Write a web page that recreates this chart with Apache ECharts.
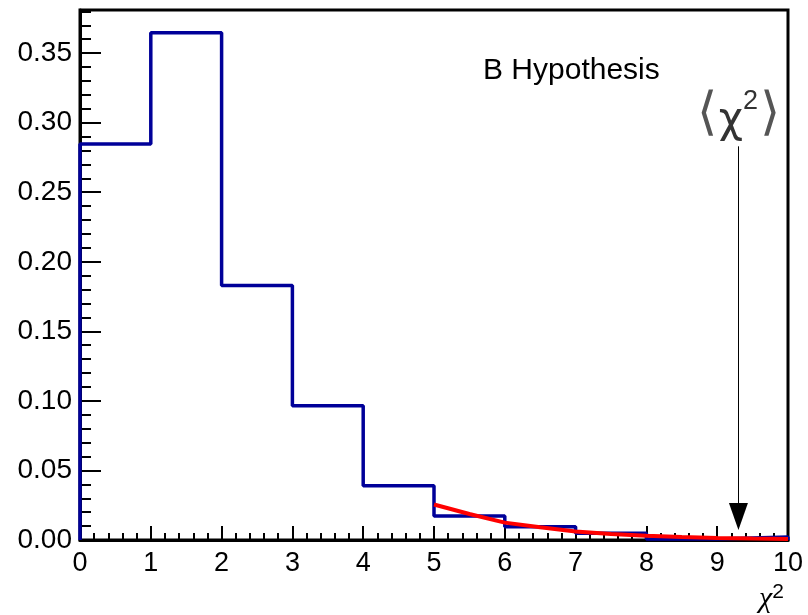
<!DOCTYPE html>
<html>
<head>
<meta charset="utf-8">
<script src="https://cdn.jsdelivr.net/npm/echarts@6/dist/echarts.min.js"></script>
<style>html,body{margin:0;padding:0;background:#fff;}#c{width:808px;height:615px;}</style>
</head>
<body>
<div id="c"></div>
<script>
// Histogram bin edges (lower) and contents (blue, B hypothesis)
const binEdges = [0, 1, 2, 3, 4, 5, 6, 7, 8, 9, 10];
const binValues = [0.2846, 0.3646, 0.183, 0.0965, 0.039, 0.0173, 0.0096, 0.0048, 0.0007, 0.0021];
// Red curve (tail fit)
const curveX = [5.0, 5.5, 6.0, 6.5, 7.0, 7.5, 8.0, 8.5, 9.0, 9.5, 10.0];
const curveY = [0.0255, 0.0187, 0.0125, 0.0091, 0.0061, 0.0043, 0.0031, 0.0022, 0.0015, 0.0010, 0.0007];
// Mean chi2 marker
const meanChi2 = 9.3;
const arrowTop = 0.283;
const arrowHeadCenter = 0.0169;
const yTickLabels = [0, 0.05, 0.10, 0.15, 0.20, 0.25, 0.30, 0.35];

const histData = [[binEdges[0], 0]];
for (let i = 0; i < binValues.length; i++) histData.push([binEdges[i], binValues[i]]);
histData.push([binEdges[binEdges.length - 1], binValues[binValues.length - 1]]);
histData.push([binEdges[binEdges.length - 1], 0]);
const curveData = curveX.map((x, i) => [x, curveY[i]]);

const chart = echarts.init(document.getElementById('c'));
const FONT = 'Liberation Sans, Arial, Helvetica, sans-serif';
chart.setOption({
  animation: false,
  backgroundColor: '#fff',
  grid: { left: 80, right: 20, top: 10, bottom: 75, show: true, borderColor: '#000', borderWidth: 3, backgroundColor: 'transparent' },
  xAxis: {
    type: 'value', min: 0, max: 10, interval: 1,
    axisLine: { show: true, onZero: false, lineStyle: { color: '#000', width: 3 } },
    axisTick: { show: true, inside: true, length: 14, lineStyle: { color: '#000', width: 2 } },
    minorTick: { show: true, splitNumber: 5, length: 7, lineStyle: { color: '#000', width: 2 } },
    axisLabel: { fontSize: 27, color: '#000', fontFamily: FONT, margin: 10 },
    splitLine: { show: false }
  },
  yAxis: [{
    type: 'value', min: 0, max: 0.381, position: 'left',
    axisLine: { show: true, onZero: false, lineStyle: { color: '#000', width: 3 } },
    axisTick: { show: true, inside: true, length: 21, customValues: yTickLabels, lineStyle: { color: '#000', width: 2 } },
    axisLabel: { fontSize: 28, color: '#000', fontFamily: FONT, margin: 8, customValues: yTickLabels, formatter: v => v.toFixed(2) },
    splitLine: { show: false }
  }, {
    type: 'value', min: 0, max: 0.381, interval: 0.01, position: 'left',
    axisLine: { show: false },
    axisTick: { show: true, inside: true, length: 11, lineStyle: { color: '#000', width: 2 } },
    axisLabel: { show: false },
    splitLine: { show: false }
  }],
  series: [{
    type: 'line', step: 'end', data: histData, symbol: 'none', yAxisIndex: 0,
    lineStyle: { color: '#000099', width: 3.5 }, z: 2,
    markLine: {
      silent: true, animation: false,
      symbol: ['none', 'triangle'], symbolSize: [19, 27],
      lineStyle: { color: '#000', width: 1, type: 'solid' },
      itemStyle: { color: '#000' },
      label: {
        show: true, position: 'start', distance: 4,
        formatter: '{a|⟨}{c|χ}{s|2}{a|⟩}',
        rich: {
          a: { fontSize: 52, fontFamily: 'DejaVu Sans, sans-serif', fontWeight: 200, color: '#555', lineHeight: 54, padding: [0, 2, 0, 2] },
          c: { fontSize: 42, fontFamily: 'DejaVu Sans, sans-serif', color: '#333', lineHeight: 54, verticalAlign: 'bottom' },
          s: { fontSize: 27, fontFamily: FONT, color: '#333', lineHeight: 27, verticalAlign: 'top' }
        }
      },
      data: [[{ coord: [meanChi2, arrowTop] }, { coord: [meanChi2, arrowHeadCenter] }]]
    }
  }, {
    type: 'line', data: curveData, symbol: 'none', yAxisIndex: 0, z: 3,
    lineStyle: { color: '#ff0000', width: 4 }
  }],
  graphic: [{
    type: 'text', left: 483, top: 56,
    style: { text: 'B Hypothesis', fontSize: 30, fontFamily: FONT, fill: '#000' }
  }, {
    type: 'text', x: 784, y: 614,
    style: {
      text: '{c|χ}{s|2}', align: 'right', verticalAlign: 'bottom',
      rich: {
        c: { fontSize: 30, fontStyle: 'italic', fontFamily: 'Liberation Serif, DejaVu Serif, serif', fill: '#000', lineHeight: 32, verticalAlign: 'bottom' },
        s: { fontSize: 21, fontFamily: FONT, fill: '#000', lineHeight: 21, verticalAlign: 'top' }
      }
    }
  }]
});
</script>
</body>
</html>
